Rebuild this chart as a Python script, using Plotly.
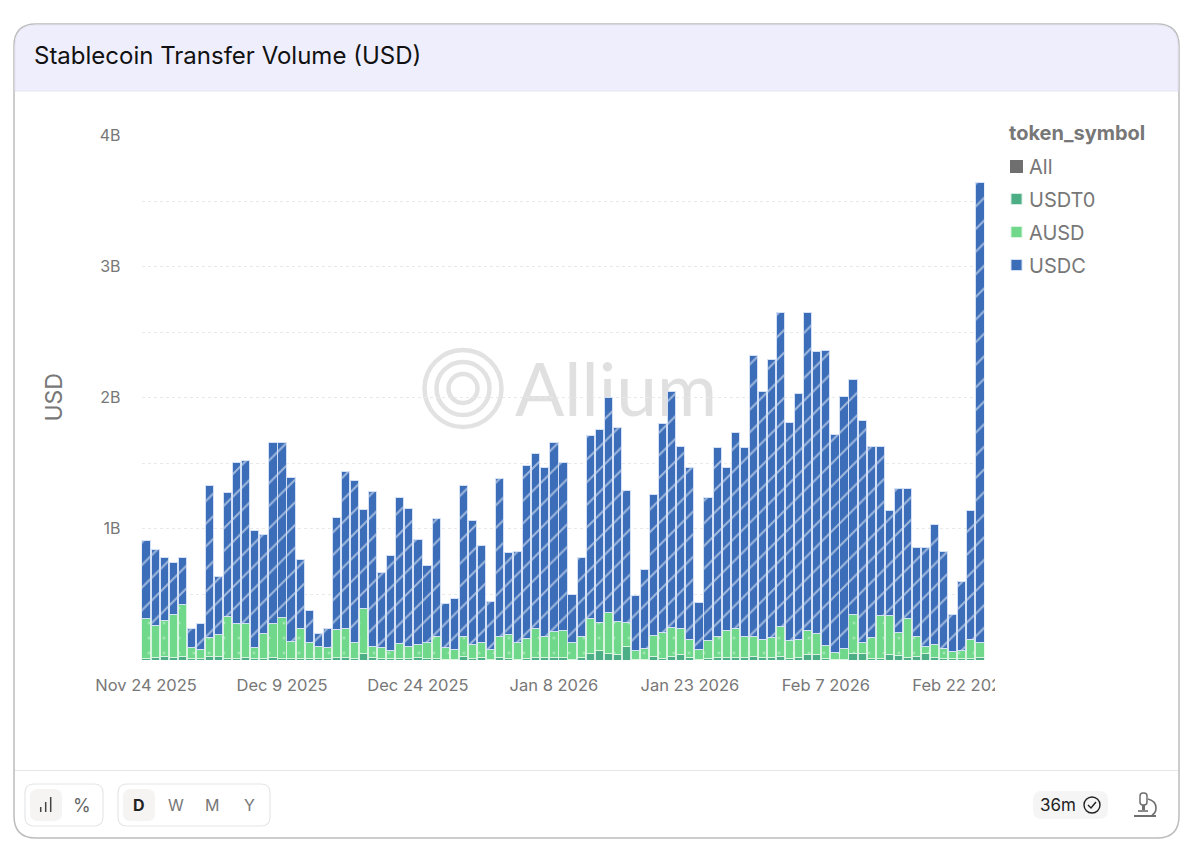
import pandas as pd
import plotly.graph_objects as go

W, H = 1200, 864

dates = pd.date_range("2025-11-24", periods=93, freq="D").strftime("%Y-%m-%d").tolist()

usdt0 = [.015,.02,.025,.018,.03,.012,.01,.03,.025,.012,.012,.018,.008,.01,.02,.012,.01,.012,.01,.008,.008,.018,.022,.012,.05,.018,.012,.012,
         .008,.008,.018,.008,.015,.006,.006,.028,.012,.016,.006,.018,.008,.006,.012,.018,.018,.018,.018,.006,.018,.05,.07,.05,.04,.1,.006,.006,
         .03,.012,.03,.04,.02,.006,.015,.02,.02,.02,.02,.025,.02,.02,.03,.012,.02,.04,.04,.012,.006,.006,.05,.05,.012,.012,.04,.035,.02,.03,.05,
         .02,.012,.01,.012,.012,.02]
ausd = [.303,.242,.278,.326,.395,.082,.071,.14,.171,.316,.27,.264,.086,.194,.257,.314,.132,.225,.125,.096,.091,.216,.22,.123,.344,.086,.082,.059,
        .117,.094,.099,.127,.161,.086,.075,.148,.105,.119,.075,.163,.188,.124,.153,.224,.16,.201,.208,.129,.158,.263,.215,.316,.253,.188,.068,.078,
        .158,.194,.217,.199,.138,.073,.13,.156,.206,.217,.158,.151,.14,.153,.224,.138,.133,.186,.16,.097,.055,.078,.294,.085,.161,.326,.296,.176,.296,.151,.054,
        .10,.075,.054,.059,.141,.112]
usdc = [.59,.578,.477,.399,.353,.143,.199,1.16,.444,.949,1.228,1.238,.893,.756,1.383,1.334,1.248,.533,.239,.101,.138,.853,1.198,1.235,.756,1.181,.57,.725,
        1.115,1.053,.803,.585,.904,.338,.391,1.152,.947,.738,.364,1.204,.624,.70,1.318,1.336,1.287,1.436,1.277,.365,.604,1.397,1.475,1.634,1.48,1.005,.416,.603,
        1.072,1.594,1.798,1.387,1.31,.356,1.091,1.442,1.239,1.496,1.442,2.144,1.89,2.117,2.396,1.66,1.877,2.424,2.15,2.251,1.659,1.926,1.796,1.695,1.457,1.292,.804,1.094,.994,.674,.751,
        .91,.738,.286,.529,.987,3.508]

legend_names = ["All", "USDT0", "AUSD", "USDC"]
legend_colors = ["#6f6f6f", "#4cae84", "#6fd88a", "#3b6db8"]
tick_dates = dates[::15]
tick_labels = ["Nov 24 2025", "Dec 9 2025", "Dec 24 2025", "Jan 8 2026", "Jan 23 2026", "Feb 7 2026", "Feb 22 2026"]
y_ticks = [.5, 1, 1.5, 2, 2.5, 3, 3.5, 4]
y_labels = ["", "1B", "", "2B", "", "3B", "", "4B"]

FONT = "Inter, 'Liberation Sans', sans-serif"
GRAY = "#777777"


def px(x):
    return x / W


def py(y):
    return 1 - y / H


def path(*pts):
    out = []
    for p in pts:
        if isinstance(p, str):
            out.append(p)
        else:
            out.append(f"{px(p[0]):.5f},{py(p[1]):.5f}")
    return " ".join(out)


def rrect(x0, y0, x1, y1, r, fill="rgba(0,0,0,0)", line="rgba(0,0,0,0)", lw=1, layer="below"):
    d = ("M", (x0 + r, y0), "L", (x1 - r, y0), "Q", (x1, y0), (x1, y0 + r), "L", (x1, y1 - r),
         "Q", (x1, y1), (x1 - r, y1), "L", (x0 + r, y1), "Q", (x0, y1), (x0, y1 - r), "L", (x0, y0 + r),
         "Q", (x0, y0), (x0 + r, y0), "Z")
    return dict(type="path", xref="paper", yref="paper", path=path(*d), fillcolor=fill,
                line=dict(color=line, width=lw), layer=layer)


def poly(pts, color, lw=1.5, fill="rgba(0,0,0,0)", layer="below"):
    d = ["M"]
    for i, p in enumerate(pts):
        if i:
            d.append("L")
        d.append(p)
    return dict(type="path", xref="paper", yref="paper", path=path(*d), fillcolor=fill,
                line=dict(color=color, width=lw), layer=layer)


def circle(cx, cy, r, color, lw, fill="rgba(0,0,0,0)"):
    return dict(type="circle", xref="paper", yref="paper", x0=px(cx - r), x1=px(cx + r),
                y0=py(cy + r), y1=py(cy - r), line=dict(color=color, width=lw), fillcolor=fill, layer="below")


def text(x, y, s, size, color=GRAY, anchor="left", weight=None, angle=0):
    t = f"<b>{s}</b>" if weight else s
    return dict(x=px(x), y=py(y), xref="paper", yref="paper", text=t, showarrow=False,
                xanchor=anchor, yanchor="middle", font=dict(family=FONT, size=size, color=color),
                borderpad=0, borderwidth=0, textangle=angle)


shapes = [
    rrect(14, 24, 1179, 838, 22, fill="#ffffff", line="#bcbcbc", lw=1.5),
    dict(type="path", xref="paper", yref="paper", layer="below", fillcolor="#efeefd",
         line=dict(color="#e4e3f2", width=1),
         path=path("M", (15, 91), "L", (15, 46), "Q", (15, 25), (36, 25), "L", (1157, 25), "Q", (1178, 25), (1178, 46), "L", (1178, 91), "Z")),
    poly([(15, 770.5), (1178, 770.5)], "#e6e6e6", 1.2),
    # watermark rings
    circle(463, 388.5, 38.5, "#e2e2e2", 4.5),
    circle(463, 388.5, 26.5, "#e2e2e2", 4.5),
    circle(463, 388.5, 14.5, "#e2e2e2", 4.5),
    dict(type="rect", xref="paper", yref="paper", x0=px(512), x1=px(730), y0=py(427), y1=py(347),
         line=dict(width=0), fillcolor="rgba(0,0,0,0)", layer="below",
         label=dict(text="Allium", textposition="middle left", padding=0,
                    font=dict(family="Lato, 'Open Sans', sans-serif", size=73, color="#e0e0e0"))),
    # footer controls
    rrect(25, 784, 103, 826, 9, line="#e6e6e6", lw=1.2),
    rrect(30, 789, 62, 821, 8, fill="#f5f4f3"),
    rrect(118, 784, 270, 826, 9, line="#e6e6e6", lw=1.2),
    rrect(123, 789, 155, 821, 8, fill="#f5f4f3"),
    poly([(40.7, 807), (40.7, 812)], "#444444", 1.5),
    poly([(45.7, 802), (45.7, 812)], "#444444", 1.5),
    poly([(50.7, 797), (50.7, 812)], "#444444", 1.5),
    rrect(1033, 791, 1108, 819, 9, fill="#f5f5f5"),
    circle(1092, 805, 8, "#222222", 1.4),
    poly([(1088, 805), (1091, 808), (1096, 802)], "#222222", 1.4),
    # microscope icon
    poly([(1134, 816), (1156, 816)], "#6f6f6f", 2),
    poly([(1138, 811), (1148, 811)], "#6f6f6f", 1.6),
    rrect(1140, 793, 1147, 805, 3, line="#6f6f6f", lw=1.5),
    poly([(1143.5, 805), (1143.5, 810)], "#6f6f6f", 3),
    dict(type="path", xref="paper", yref="paper", layer="below", fillcolor="rgba(0,0,0,0)",
         line=dict(color="#6f6f6f", width=1.6),
         path=path("M", (1148, 799), "Q", (1156, 801), (1156, 808), "Q", (1156, 813), (1152, 815))),
    # legend swatches
    dict(type="rect", xref="paper", yref="paper", x0=px(1010), x1=px(1023), y0=py(173), y1=py(160),
         fillcolor=legend_colors[0], line=dict(width=0), layer="below"),
    dict(type="rect", xref="paper", yref="paper", x0=px(1011), x1=px(1022), y0=py(204.5), y1=py(193.5),
         fillcolor=legend_colors[1], line=dict(color="#d5ece2", width=1), layer="below"),
    dict(type="rect", xref="paper", yref="paper", x0=px(1011), x1=px(1022), y0=py(237.5), y1=py(226.5),
         fillcolor=legend_colors[2], line=dict(color="#d8f4df", width=1), layer="below"),
    dict(type="rect", xref="paper", yref="paper", x0=px(1011), x1=px(1022), y0=py(270.5), y1=py(259.5),
         fillcolor=legend_colors[3], line=dict(color="#d4e0f2", width=1), layer="below"),
    # clip of the last x label at the chart container's edge
    dict(type="rect", xref="paper", yref="paper", x0=px(995), x1=px(1020), y0=py(696), y1=py(672),
         fillcolor="#ffffff", line=dict(width=0), layer="above"),
]

annotations = [
    text(34, 56, "Stablecoin Transfer Volume (USD)", 24, "#111111"),
    text(1009, 133, "token_symbol", 20, GRAY, weight=True),
    text(1029, 166.5, legend_names[0], 20),
    text(1029, 199.5, legend_names[1], 20),
    text(1029, 232.5, legend_names[2], 20),
    text(1029, 265.5, legend_names[3], 20),
    text(82, 805, "%", 18, "#666666", "center"),
    text(139, 805, "D", 16, "#222222", "center", weight=True),
    text(176, 805, "W", 16, GRAY, "center"),
    text(212, 805, "M", 16, GRAY, "center"),
    text(249, 805, "Y", 16, GRAY, "center"),
    text(1040, 805, "36m", 17, "#222222"),
    text(53, 397.5, "USD", 23, GRAY, "center", angle=-90),
]

fig = go.Figure()
fig.add_bar(name="USDT0", x=dates, y=[v * 1e9 for v in usdt0],
            marker=dict(color=legend_colors[1], line=dict(color="#d5ece2", width=1)))
fig.add_bar(name="AUSD", x=dates, y=[v * 1e9 for v in ausd],
            marker=dict(color=legend_colors[2], line=dict(color="#d8f4df", width=1),
                        pattern=dict(shape=".", size=15, solidity=0.02, fgcolor="#ffffff", bgcolor=legend_colors[2])))
fig.add_bar(name="USDC", x=dates, y=[v * 1e9 for v in usdc],
            marker=dict(color=legend_colors[3], line=dict(color="#d3e0f5", width=1),
                        pattern=dict(shape="/", size=16, solidity=0.13, fgcolor="#ffffff", bgcolor=legend_colors[3])))

fig.update_layout(
    width=W, height=H, autosize=False, barmode="stack", bargap=0.1, showlegend=False,
    margin=dict(l=0, r=0, t=0, b=0, pad=0, autoexpand=False), paper_bgcolor="#ffffff", plot_bgcolor="rgba(0,0,0,0)",
    font=dict(family=FONT, color=GRAY), shapes=shapes, annotations=annotations,
)
fig.update_xaxes(
    automargin=False, domain=[141.5 / W, 984.5 / W], type="date",
    range=["2025-11-23 12:00", "2026-02-24 12:00"],
    tickmode="array", tickvals=tick_dates, ticktext=tick_labels,
    showgrid=False, zeroline=False, showline=False, ticks="", ticklabelstandoff=13,
    tickfont=dict(size=16.5, color=GRAY), tickangle=0,
)
fig.update_yaxes(
    automargin=False, domain=[1 - 660 / H, 1 - 135.5 / H], range=[0, 4e9],
    tickmode="array", tickvals=[v * 1e9 for v in y_ticks], ticktext=y_labels,
    showgrid=True, gridcolor="#e9e9e9", griddash="dot", gridwidth=1, zeroline=False, showline=False,
    ticks="", ticklabelstandoff=20, tickfont=dict(size=16, color=GRAY),
)

fig.write_html("out.html", config=dict(displayModeBar=False),
               post_script="document.body.style.margin='0';")
